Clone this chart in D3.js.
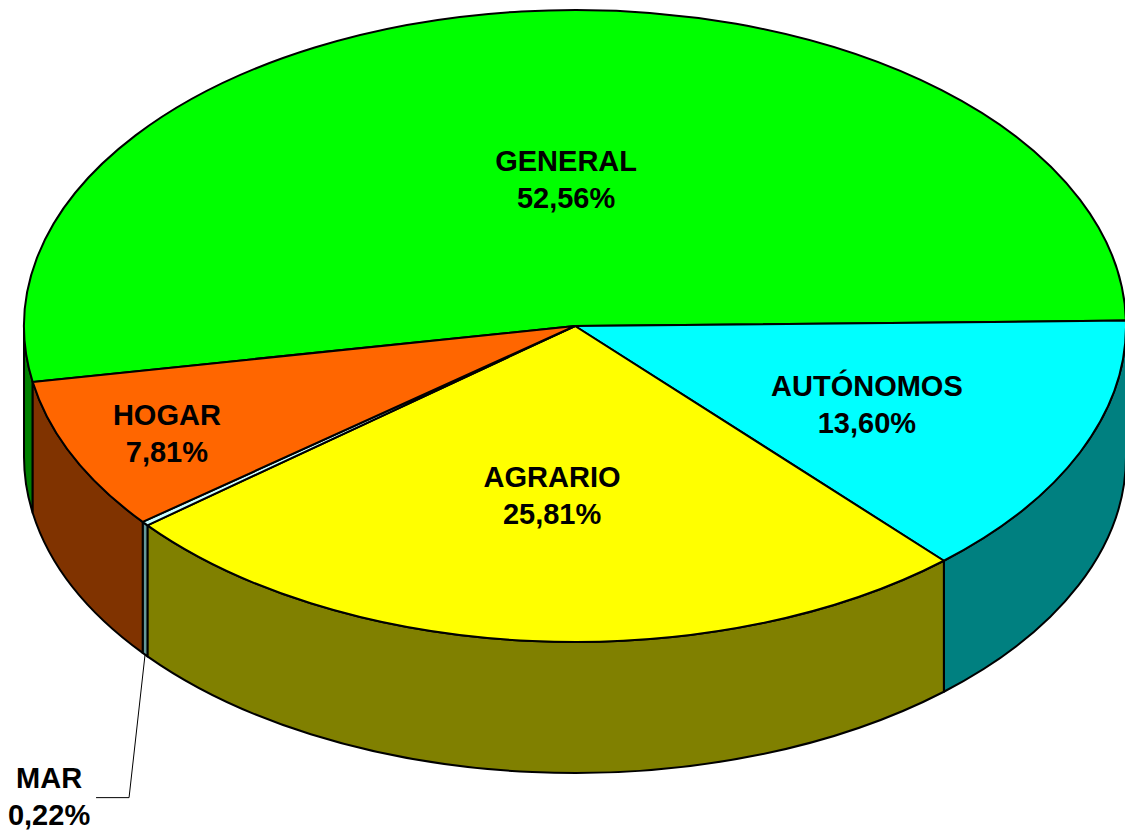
<!DOCTYPE html>
<html>
<head>
<meta charset="utf-8">
<script src="https://cdn.jsdelivr.net/npm/d3@7"></script>
<style>
  body { margin: 0; background: #fff; }
  text { font-family: "Liberation Sans", Arial, sans-serif; font-weight: bold; font-size: 29px; fill: #000; }
</style>
</head>
<body>
<script>
// data
var categories = ["GENERAL", "AUTÓNOMOS", "AGRARIO", "MAR", "HOGAR"];
var values = [52.56, 13.60, 25.81, 0.22, 7.81];
var valueLabels = ["52,56%", "13,60%", "25,81%", "0,22%", "7,81%"];
var topColors = ["#00ff00", "#00ffff", "#ffff00", "#ccffff", "#ff6600"];
var sideColors = ["#008000", "#008080", "#808000", "#669999", "#803300"];

// layout
var width = 1125, height = 831;
var cx = 575, cy = 326, rx = 551, ry = 316, depth = 131;
var firstAngle = 259.8; // degrees, d3.pie convention (0 = 12 o'clock)
// label radius (fraction of ellipse) and small angle nudge, in degrees
var labelR = [0.464, 0.585, 0.538, 0, 0.815];
var labelNudge = [3.6, 1.6, 0, 0, -0.4];

var rad = Math.PI / 180;

var svg = d3.select("body").append("svg")
    .attr("width", width)
    .attr("height", height);

var pie = d3.pie()
    .sort(null)
    .value(function (d) { return d; })
    .startAngle(firstAngle * rad)
    .endAngle((firstAngle + 360) * rad);

var arcs = pie(values);

// screen angle: 0 = east, clockwise (y down)
function theta(a) { return a - Math.PI / 2; }
function pt(t, r, dy) {
    r = r == null ? 1 : r;
    return [cx + rx * r * Math.cos(t), cy + ry * r * Math.sin(t) + (dy || 0)];
}

function wallPath(a0, a1) {
    var p0 = pt(a0), p1 = pt(a1), b1 = pt(a1, 1, depth), b0 = pt(a0, 1, depth);
    return "M" + p0 + " A" + rx + "," + ry + " 0 0 1 " + p1 +
        " L" + b1 + " A" + rx + "," + ry + " 0 0 0 " + b0 + " Z";
}

function topPath(t0, t1) {
    var p0 = pt(t0), p1 = pt(t1);
    var large = (t1 - t0) > Math.PI ? 1 : 0;
    return "M" + cx + "," + cy + " L" + p0 + " A" + rx + "," + ry + " 0 " + large + " 1 " + p1 + " Z";
}

// side walls (front half only)
var walls = svg.append("g");
arcs.forEach(function (d, i) {
    var t0 = theta(d.startAngle), t1 = theta(d.endAngle);
    [-2, -1, 0].forEach(function (k) {
        var a0 = Math.max(t0 + k * Math.PI * 2, 0);
        var a1 = Math.min(t1 + k * Math.PI * 2, Math.PI);
        if (a1 - a0 > 0.0001) {
            walls.append("path")
                .attr("d", wallPath(a0, a1))
                .attr("fill", sideColors[i])
                .attr("stroke", "#000")
                .attr("stroke-width", 2)
                .attr("stroke-linejoin", "round");
        }
    });
});

// top faces
svg.append("g").selectAll("path")
    .data(arcs)
    .enter().append("path")
    .attr("d", function (d) { return topPath(theta(d.startAngle), theta(d.endAngle)); })
    .attr("fill", function (d, i) { return topColors[i]; })
    .attr("stroke", "#000")
    .attr("stroke-width", 2)
    .attr("stroke-linejoin", "round");

// labels
var labels = svg.append("g");
arcs.forEach(function (d, i) {
    var mid = theta((d.startAngle + d.endAngle) / 2);
    var x, y;
    if (labelR[i] > 0) {
        var p = pt(mid + labelNudge[i] * rad, labelR[i]);
        x = p[0]; y = p[1];
    } else {
        // small slice: label outside with a leader line
        var a = pt(mid, 1, depth);
        var elbow = [a[0] - 16, a[1] + 143];
        var end = [elbow[0] - 33, elbow[1]];
        labels.append("polyline")
            .attr("points", [a, elbow, end].join(" "))
            .attr("fill", "none")
            .attr("stroke", "#000")
            .attr("stroke-width", 1);
        x = end[0] - 47; y = end[1] - 1;
    }
    var t = labels.append("text").attr("text-anchor", "middle");
    t.append("tspan").attr("x", x).attr("y", y - 8.5).text(categories[i]);
    t.append("tspan").attr("x", x).attr("y", y + 28.5).text(valueLabels[i]);
});
</script>
</body>
</html>
